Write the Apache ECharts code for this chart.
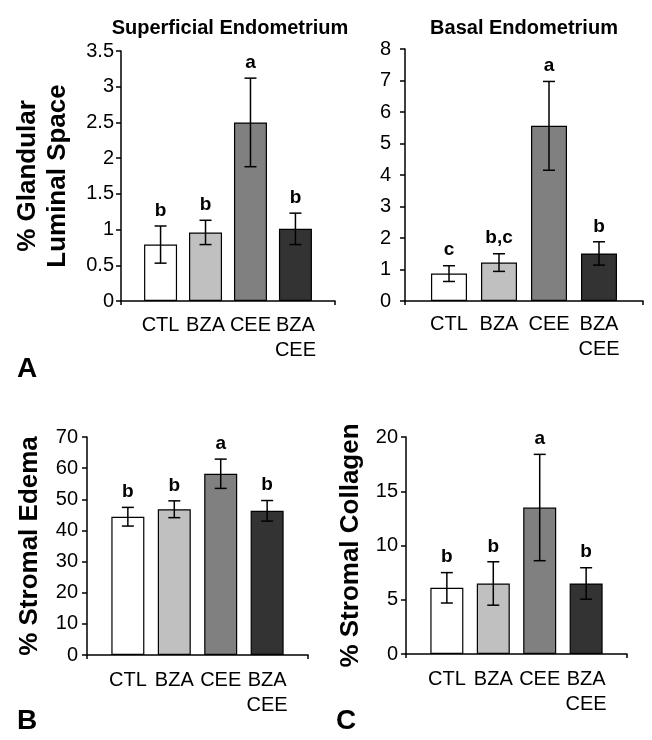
<!DOCTYPE html>
<html><head><meta charset="utf-8">
<script src="https://cdn.jsdelivr.net/npm/echarts@6/dist/echarts.min.js"></script>
<style>html,body{margin:0;padding:0;background:#fff}#c{width:652px;height:740px}</style>
</head><body><div id="c"></div>
<script>
const categories = ['CTL', 'BZA', 'CEE', 'BZA\nCEE'];
const barColors = ['#ffffff', '#c0c0c0', '#808080', '#333333'];

const superficialMean = [0.79, 0.96, 2.50, 1.01];
const superficialErr  = [0.26, 0.17, 0.62, 0.22];
const superficialSig  = ['b', 'b', 'a', 'b'];

const basalMean = [0.87, 1.22, 5.56, 1.51];
const basalErr  = [0.25, 0.28, 1.41, 0.37];
const basalSig  = ['c', 'b,c', 'a', 'b'];

const edemaMean = [44.4, 46.8, 58.2, 46.3];
const edemaErr  = [3.0, 2.7, 4.7, 3.3];
const edemaSig  = ['b', 'b', 'a', 'b'];

const collagenMean = [6.1, 6.5, 13.5, 6.5];
const collagenErr  = [1.4, 2.0, 4.9, 1.45];
const collagenSig  = ['b', 'b', 'a', 'b'];

const yMaxes = [3.5, 8, 70, 20];
const yIntervals = [0.5, 1, 10, 5];
const yTitles = ['% Glandular\nLuminal Space', '', '% Stromal Edema', '% Stromal Collagen'];
const panelTitles = ['Superficial Endometrium', 'Basal Endometrium'];
const panelLetters = ['A', 'B', 'C'];

const FONT = 'Liberation Sans, Arial, Helvetica, sans-serif';
const X_MIN = -0.88, X_MAX = 3.88;

const panels = [
  {mean: superficialMean, err: superficialErr, sig: superficialSig, grid: {left: 121, top: 51, width: 214, height: 250}, barW: 33, nameGap: 48, yMargin: 7, xMargin: 12},
  {mean: basalMean, err: basalErr, sig: basalSig, grid: {left: 405, top: 49, width: 238, height: 252}, barW: 36, nameGap: 40, yMargin: 14, xMargin: 11},
  {mean: edemaMean, err: edemaErr, sig: edemaSig, grid: {left: 87, top: 437, width: 221, height: 218}, barW: 33, nameGap: 42, yMargin: 9, xMargin: 13},
  {mean: collagenMean, err: collagenErr, sig: collagenSig, grid: {left: 406, top: 437, width: 221, height: 217}, barW: 33, nameGap: 40, yMargin: 8, xMargin: 13}
];

const grids = [], xAxes = [], yAxes = [], series = [];
panels.forEach((p, k) => {
  grids.push(Object.assign({containLabel: false}, p.grid));
  xAxes.push({
    type: 'value', gridIndex: k, min: X_MIN, max: X_MAX,
    splitLine: {show: false},
    axisLine: {onZero: false, lineStyle: {color: '#000', width: 1.5}},
    axisTick: {show: true, customValues: [X_MIN, X_MAX], length: 4, lineStyle: {color: '#000', width: 1.5}},
    axisLabel: {
      customValues: [0, 1, 2, 3],
      formatter: v => categories[Math.round(v)],
      color: '#000', fontSize: 20, fontFamily: FONT, lineHeight: 25, margin: p.xMargin,
      verticalAlign: 'top'
    }
  });
  yAxes.push({
    type: 'value', gridIndex: k, min: 0, max: yMaxes[k], interval: yIntervals[k],
    name: yTitles[k], nameLocation: 'middle', nameRotate: 90, nameGap: p.nameGap,
    nameTextStyle: {color: '#000', fontSize: 26, fontWeight: 'bold', fontFamily: FONT, lineHeight: 30},
    splitLine: {show: false},
    axisLine: {show: true, onZero: false, lineStyle: {color: '#000', width: 1.5}},
    axisTick: {show: true, length: 5, lineStyle: {color: '#000', width: 1.5}},
    axisLabel: {color: '#000', fontSize: 20, fontFamily: FONT, margin: p.yMargin}
  });
  series.push({
    type: 'bar', xAxisIndex: k, yAxisIndex: k, barWidth: p.barW,
    data: p.mean.map((v, i) => ({value: [i, v], itemStyle: {color: barColors[i]}})),
    itemStyle: {borderColor: '#000', borderWidth: 1.2},
    silent: true
  });
  series.push({
    type: 'custom', xAxisIndex: k, yAxisIndex: k,
    data: p.mean.map((v, i) => [i, v, p.err[i]]),
    encode: {x: 0, y: 1},
    renderItem: (params, api) => {
      const x = api.value(0), m = api.value(1), e = api.value(2);
      const top = api.coord([x, m + e]);
      const bot = api.coord([x, m - e]);
      const hw = 6;
      const ls = {stroke: '#000', lineWidth: 1.5};
      return {
        type: 'group',
        children: [
          {type: 'line', shape: {x1: top[0], y1: top[1], x2: bot[0], y2: bot[1]}, style: ls},
          {type: 'line', shape: {x1: top[0] - hw, y1: top[1], x2: top[0] + hw, y2: top[1]}, style: ls},
          {type: 'line', shape: {x1: bot[0] - hw, y1: bot[1], x2: bot[0] + hw, y2: bot[1]}, style: ls},
          {type: 'text', x: top[0], y: top[1] - 6,
           style: {text: p.sig[params.dataIndex], fill: '#000', font: 'bold 19px ' + FONT, align: 'center', verticalAlign: 'bottom'}}
        ]
      };
    },
    silent: true, z: 5
  });
});

const titles = [
  {text: panelTitles[0], left: 225, top: 13, textAlign: 'center', textStyle: {fontSize: 20, fontWeight: 'bold', fontFamily: FONT, color: '#000'}},
  {text: panelTitles[1], left: 519, top: 13, textAlign: 'center', textStyle: {fontSize: 20, fontWeight: 'bold', fontFamily: FONT, color: '#000'}},
  {text: panelLetters[0], left: 12, top: 350, textStyle: {fontSize: 28, fontWeight: 'bold', fontFamily: FONT, color: '#000'}},
  {text: panelLetters[1], left: 12, top: 702, textStyle: {fontSize: 28, fontWeight: 'bold', fontFamily: FONT, color: '#000'}},
  {text: panelLetters[2], left: 331, top: 702, textStyle: {fontSize: 28, fontWeight: 'bold', fontFamily: FONT, color: '#000'}}
];

const chart = echarts.init(document.getElementById('c'), null, {renderer: 'canvas'});
chart.setOption({
  backgroundColor: '#fff',
  animation: false,
  title: titles,
  grid: grids,
  xAxis: xAxes,
  yAxis: yAxes,
  series: series
});
</script></body></html>
